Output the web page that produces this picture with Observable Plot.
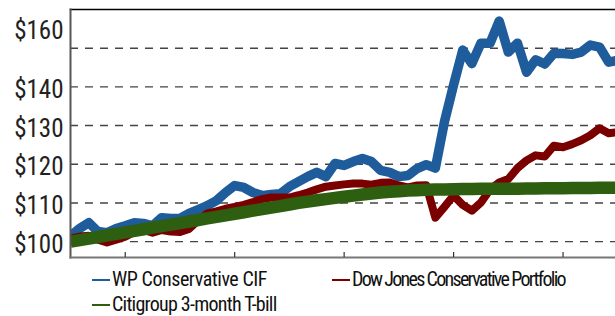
<!DOCTYPE html>
<html>
<head>
<meta charset="utf-8">
<script src="https://cdn.jsdelivr.net/npm/d3@7"></script>
<script src="https://cdn.jsdelivr.net/npm/@observablehq/plot@0.6"></script>
<style>
  html, body { margin: 0; padding: 0; background: #fff; }
  #wrap { position: relative; width: 615px; height: 316px; overflow: hidden; }
  .lg { position: absolute; font-family: "Liberation Sans Narrow", "Roboto Condensed", "DejaVu Sans Condensed", sans-serif;
        font-size: 20px; color: #111; white-space: nowrap; line-height: 20px; }
  .sw { position: absolute; height: 2px; width: 18px; }
</style>
</head>
<body>
<div id="wrap"></div>
<script>
// Series names
const seriesNames = ["WP Conservative CIF", "Dow Jones Conservative Portfolio", "Citigroup 3-month T-bill"];

// Monthly growth of $100
const wpValues = [
  101.5, 103.4, 104.9, 102.6, 102.3, 103.4, 104.1, 104.9, 104.7, 104.1,
  106.2, 106.0, 106.0, 107.3, 108.3, 109.3, 110.6, 112.7, 114.5, 114.0,
  112.7, 111.9, 112.2, 112.4, 114.2, 115.5, 116.8, 117.9, 116.8, 120.2,
  119.7, 120.7, 121.5, 120.7, 118.4, 117.9, 116.8, 117.1, 118.9, 119.9,
  119.0, 131.0, 140.5, 149.5, 146.0, 151.3, 151.3, 157.0, 149.0, 151.3,
  143.8, 147.0, 145.9, 148.7, 148.6, 148.4, 149.0, 150.8, 150.3, 146.4,
  146.9
];
const djValues = [
  100.8, 101.3, 101.5, 100.5, 99.8, 100.5, 101.3, 102.5, 103.0, 102.3,
  103.0, 102.6, 102.5, 103.3, 105.5, 107.3, 107.8, 108.5, 109.0, 109.5,
  110.2, 111.0, 111.4, 111.4, 111.4, 112.0, 112.7, 113.5, 114.2, 114.5,
  114.8, 115.0, 115.0, 114.7, 115.2, 115.3, 114.5, 114.0, 114.5, 114.6,
  106.2, 109.0, 111.9, 109.5, 108.0, 110.1, 113.5, 115.3, 116.2, 119.0,
  121.0, 122.3, 122.0, 124.8, 124.4, 125.2, 126.2, 127.5, 129.3, 128.0,
  128.3
];
const tbillValues = [
  100.0, 100.4, 100.8, 101.2, 101.6, 102.0, 102.4, 102.8, 103.2, 103.6,
  104.0, 104.4, 104.8, 105.2, 105.6, 106.0, 106.4, 106.8, 107.2, 107.6,
  108.0, 108.4, 108.8, 109.2, 109.6, 110.0, 110.35, 110.7, 111.0, 111.3,
  111.6, 111.9, 112.2, 112.45, 112.7, 112.9, 113.05, 113.2, 113.3, 113.4,
  113.45, 113.5, 113.55, 113.6, 113.6, 113.65, 113.65, 113.7, 113.7, 113.7,
  113.75, 113.75, 113.8, 113.8, 113.8, 113.85, 113.85, 113.85, 113.9, 113.9,
  113.9
];

// Axis values
const xTickMonths = [6, 18, 30, 42, 54];
const yTickValues = [100, 110, 120, 130, 140];
const gridValues = [100, 110, 120, 130, 140, 150];
const topTickLabel = "$160";

const colors = ["#1f5c9b", "#7a0000", "#2e5e10"];
const widths = [9.5, 8, 12.5];

const allSeries = [wpValues, djValues, tbillValues];
const rows = allSeries.flatMap((vals, s) => vals.map((v, i) => ({series: seriesNames[s], month: i, value: v})));

const font = '"Liberation Sans Narrow", "Roboto Condensed", "DejaVu Sans Condensed", sans-serif';

const chart = Plot.plot({
  width: 615,
  height: 262,
  marginLeft: 70,
  marginRight: 0,
  marginTop: 9,
  marginBottom: 5,
  style: {fontFamily: font, fontSize: "25px", color: "#222", background: "#fff"},
  x: {domain: [0, 59.75], axis: null},
  y: {domain: [95.9, 160], axis: null},
  marks: [
    Plot.ruleY(gridValues, {stroke: "#444", strokeWidth: 1.4, strokeDasharray: "8,7"}),
    ...seriesNames.map((name, s) =>
      Plot.line(rows.filter(d => d.series === name), {
        x: "month", y: "value", stroke: colors[s], strokeWidth: widths[s],
        strokeLinejoin: "round", strokeLinecap: "butt", clip: true
      })
    ),
    Plot.frame({anchor: "top", stroke: "#000", strokeWidth: 1.6}),
    Plot.frame({anchor: "left", stroke: "#555", strokeWidth: 2}),
    Plot.frame({anchor: "bottom", stroke: "#777", strokeWidth: 2.2}),
    Plot.ruleX(xTickMonths, {x: d => d, y1: 95.9, y2: 97.2, stroke: "#333", strokeWidth: 1.2}),
    Plot.axisY({ticks: yTickValues, label: null, tickSize: 0, tickPadding: 7, tickFormat: d => "$" + d, dy: 3, fill: "#222", fontSize: 25}),
    Plot.text([topTickLabel], {frameAnchor: "top-left", text: d => d, textAnchor: "end", lineAnchor: "middle", dx: -7, dy: 21, fill: "#222", fontSize: 25})
  ]
});

const wrap = document.getElementById("wrap");
wrap.appendChild(chart);

// Legend below the SVG
const legendItems = [
  {name: seriesNames[0], color: colors[0], x: 92, y: 280, ls: -0.45},
  {name: seriesNames[1], color: colors[1], x: 332, y: 280, ls: -1.7},
  {name: seriesNames[2], color: colors[2], x: 92, y: 305, ls: -0.75}
];
for (const it of legendItems) {
  const sw = document.createElement("div");
  sw.className = "sw";
  sw.style.left = it.x + "px";
  sw.style.top = (it.y - 1) + "px";
  sw.style.background = it.color;
  wrap.appendChild(sw);
  const t = document.createElement("div");
  t.className = "lg";
  t.textContent = it.name;
  t.style.letterSpacing = it.ls + "px";
  t.style.left = (it.x + 20) + "px";
  t.style.top = (it.y - 11) + "px";
  wrap.appendChild(t);
}
</script>
</body>
</html>
